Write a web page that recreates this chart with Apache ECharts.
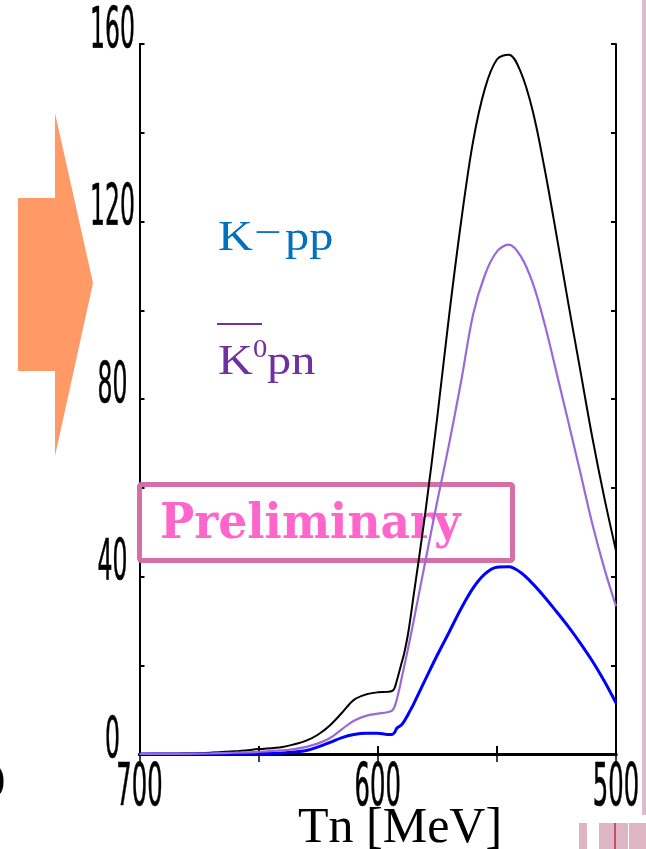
<!DOCTYPE html>
<html>
<head>
<meta charset="utf-8">
<script src="https://cdn.jsdelivr.net/npm/echarts@6/dist/echarts.min.js"></script>
<style>
  html, body { margin: 0; padding: 0; background: #fff; }
  #chart { width: 646px; height: 849px; }
</style>
</head>
<body>
<div id="chart"></div>
<script>
// Neutron kinetic energy grid (MeV), high to low
const energies = [700, 690, 680, 670, 660, 650, 640, 635, 630, 625, 620, 615, 610, 605, 600,
  596, 594, 593, 592, 591, 590, 589, 588, 587, 585, 580, 575, 570, 565, 560, 555,
  550, 545, 540, 535, 530, 525, 520, 515, 510, 505, 500];

// Total spectrum
const totalYield = [0, 0.05, 0.1, 0.3, 0.6, 1.1, 1.6, 2.2, 3.0, 4.4, 6.5, 9.3, 12.2, 13.4, 13.9,
  14.0, 14.2, 14.8, 16.5, 18.5, 20.5, 22.5, 25, 28, 35.5, 54.5, 76, 99, 120, 138, 150,
  156.5, 157.6, 153.7, 145, 132, 117, 101.5, 86.5, 71.5, 58, 45.8];

// K0bar p n channel
const k0pnYield = [0, 0.02, 0.05, 0.15, 0.3, 0.5, 0.8, 1.1, 1.6, 2.4, 3.6, 5.6, 7.5, 8.6, 9.1,
  9.4, 9.8, 10.6, 12.3, 14.5, 17, 19.5, 22, 24.5, 29.8, 43.5, 57, 70, 84, 99, 108,
  113.2, 114.8, 112.2, 106.2, 97, 86, 74.8, 63.5, 52, 42, 33.3];

// K- p p channel
const kppYield = [0, 0, 0.01, 0.02, 0.05, 0.1, 0.25, 0.45, 0.8, 1.6, 2.6, 3.7, 4.4, 4.7, 4.7,
  4.4, 4.4, 4.8, 5.8, 6.2, 6.6, 7.3, 8.2, 9.2, 11.2, 16.8, 22.3, 27.5, 32.8, 37.4, 40.6,
  42.1, 42.2, 40.9, 38.4, 35.4, 32.1, 28.7, 25, 21, 16.5, 11.5];

const xTickLabels = [700, 600, 500];
const yTickLabels = [0, 40, 80, 120, 160];

const pairs = (ys) => energies.map((e, i) => [e, ys[i]]);

const tickFont = "'Liberation Sans Narrow', 'DejaVu Sans Condensed', sans-serif";

const chart = echarts.init(document.getElementById('chart'), null, { renderer: 'canvas' });

const axisCommon = {
  type: 'value',
  axisLine: { show: true, lineStyle: { color: '#000', width: 2 } },
  axisLabel: { show: false },
  splitLine: { show: false }
};

const curve = (name, values, color, width, z) => ({
  type: 'line', name: name, data: pairs(values), xAxisIndex: 0, yAxisIndex: 0,
  showSymbol: false, smooth: 0.35, z: z,
  lineStyle: { color: color, width: width }
});

const option = {
  animation: false,
  backgroundColor: '#fff',
  grid: { left: 139.5, right: 30, top: 44, bottom: 95, containLabel: false },
  xAxis: [
    Object.assign({}, axisCommon, {
      position: 'bottom', min: 500, max: 700, interval: 50, inverse: true,
      axisLine: { show: true, lineStyle: { color: '#000', width: 3 } },
      axisTick: { show: true, inside: true, length: 8, lineStyle: { color: '#000', width: 2 } }
    }),
    Object.assign({}, axisCommon, {
      position: 'top', min: 500, max: 700, interval: 50, inverse: true,
      axisLine: { show: true, lineStyle: { color: '#000', width: 3 } },
      axisTick: { show: true, inside: true, length: 8, lineStyle: { color: '#000', width: 1.5 } }
    })
  ],
  yAxis: [
    Object.assign({}, axisCommon, {
      position: 'left', min: 0, max: 160, interval: 20,
      axisTick: { show: true, inside: true, length: 5, lineStyle: { color: '#000', width: 2 } }
    }),
    Object.assign({}, axisCommon, {
      position: 'right', min: 0, max: 160, interval: 20,
      axisTick: { show: true, inside: true, length: 5, lineStyle: { color: '#000', width: 2 } }
    })
  ],
  series: [
    curve('total', totalYield, '#000', 2, 3),
    curve('K-pp', kppYield, '#0000ff', 3, 3),
    curve('K0pn', k0pnYield, '#9b69d7', 2.2, 4),
    {
      // y tick labels, tall condensed digits
      type: 'custom', xAxisIndex: 0, yAxisIndex: 0, clip: false, silent: true, z: 5,
      data: yTickLabels.map(v => [700, v]),
      renderItem: (params, api) => {
        const p = api.coord([api.value(0), api.value(1)]);
        return {
          type: 'text', x: p[0] - 27, y: p[1] - 11, scaleX: 0.9, scaleY: 1.95,
          style: {
            text: String(api.value(1)), fill: '#000', stroke: '#000', lineWidth: 0.3,
            font: '29px ' + tickFont, align: 'center', verticalAlign: 'middle'
          }
        };
      }
    },
    {
      // x tick labels
      type: 'custom', xAxisIndex: 0, yAxisIndex: 0, clip: false, silent: true, z: 5,
      data: xTickLabels.map(t => [t, 0]),
      renderItem: (params, api) => {
        const p = api.coord([api.value(0), api.value(1)]);
        return {
          type: 'text', x: p[0], y: p[1] + 36, scaleX: 0.93, scaleY: 2.0,
          style: {
            text: String(api.value(0)), fill: '#000', stroke: '#000', lineWidth: 0.3,
            font: '29px ' + tickFont, align: 'center', verticalAlign: 'middle'
          }
        };
      }
    }
  ],
  graphic: [
    // orange arrow
    {
      type: 'polygon', z: 1,
      shape: { points: [[18, 198], [55, 198], [55, 113], [93, 283], [55, 456], [55, 371], [18, 371]] },
      style: { fill: '#ff9966' }
    },
    // clipped glyph at left edge
    {
      type: 'text', z: 1, x: -8, y: 780,
      style: { text: ')', font: '40px "Liberation Serif", serif', fill: '#000', verticalAlign: 'middle' }
    },
    // side decorations
    { type: 'rect', z: 1, shape: { x: 642, y: 0, width: 4, height: 815 }, style: { fill: '#dfbacb' } },
    { type: 'rect', z: 1, shape: { x: 579, y: 823, width: 8, height: 26 }, style: { fill: '#ddb5c3' } },
    { type: 'rect', z: 1, shape: { x: 599, y: 823, width: 15, height: 26 }, style: { fill: '#ddb5c3' } },
    { type: 'rect', z: 1, shape: { x: 614, y: 823, width: 2, height: 26 }, style: { fill: '#c0506f' } },
    { type: 'rect', z: 1, shape: { x: 616, y: 823, width: 12, height: 26 }, style: { fill: '#ddb5c3' } },
    { type: 'rect', z: 1, shape: { x: 629, y: 823, width: 17, height: 26 }, style: { fill: '#ddb5c3' } },
    // legend labels
    {
      type: 'text', z: 1, x: 218, y: 239, scaleX: 1.15,
      style: { text: 'K', font: '42px "Liberation Serif", serif', fill: '#0070c0', verticalAlign: 'middle' }
    },
    {
      type: 'text', z: 1, x: 254, y: 235, scaleX: 1.35,
      style: { text: '\u2212', font: '36px "Liberation Serif", serif', fill: '#0070c0', verticalAlign: 'middle' }
    },
    {
      type: 'text', z: 1, x: 285, y: 239, scaleX: 1.15,
      style: { text: 'pp', font: '42px "Liberation Serif", serif', fill: '#0070c0', verticalAlign: 'middle' }
    },
    {
      type: 'line', z: 1, shape: { x1: 217, y1: 324, x2: 262, y2: 324 },
      style: { stroke: '#7030a0', lineWidth: 2 }
    },
    {
      type: 'text', z: 1, x: 218, y: 363, scaleX: 1.15,
      style: { text: 'K', font: '42px "Liberation Serif", serif', fill: '#7030a0', verticalAlign: 'middle' }
    },
    {
      type: 'text', z: 1, x: 253, y: 350, scaleX: 1.1,
      style: { text: '0', font: '26px "Liberation Serif", serif', fill: '#7030a0', verticalAlign: 'middle' }
    },
    {
      type: 'text', z: 1, x: 267, y: 363, scaleX: 1.15,
      style: { text: 'pn', font: '42px "Liberation Serif", serif', fill: '#7030a0', verticalAlign: 'middle' }
    },
    // preliminary stamp
    {
      type: 'rect', z: 1, shape: { x: 139.5, y: 484.5, width: 373, height: 76, r: 2 },
      style: { fill: 'rgba(255,255,255,0)', stroke: '#d470a5', lineWidth: 5 }
    },
    {
      type: 'text', z: 1, x: 160, y: 525, scaleX: 0.93,
      style: {
        text: 'Preliminary', font: 'bold 49px "DejaVu Serif", serif', fill: '#ff66cc',
        verticalAlign: 'middle',
        shadowColor: 'rgba(60,60,60,0.55)', shadowBlur: 3, shadowOffsetX: 3, shadowOffsetY: 3
      }
    },
    // axis title
    {
      type: 'text', z: 1, x: 298, y: 829,
      style: { text: 'Tn [MeV]', font: '50px "Liberation Serif", serif', fill: '#000', verticalAlign: 'middle' }
    }
  ]
};

chart.setOption(option);
</script>
</body>
</html>
